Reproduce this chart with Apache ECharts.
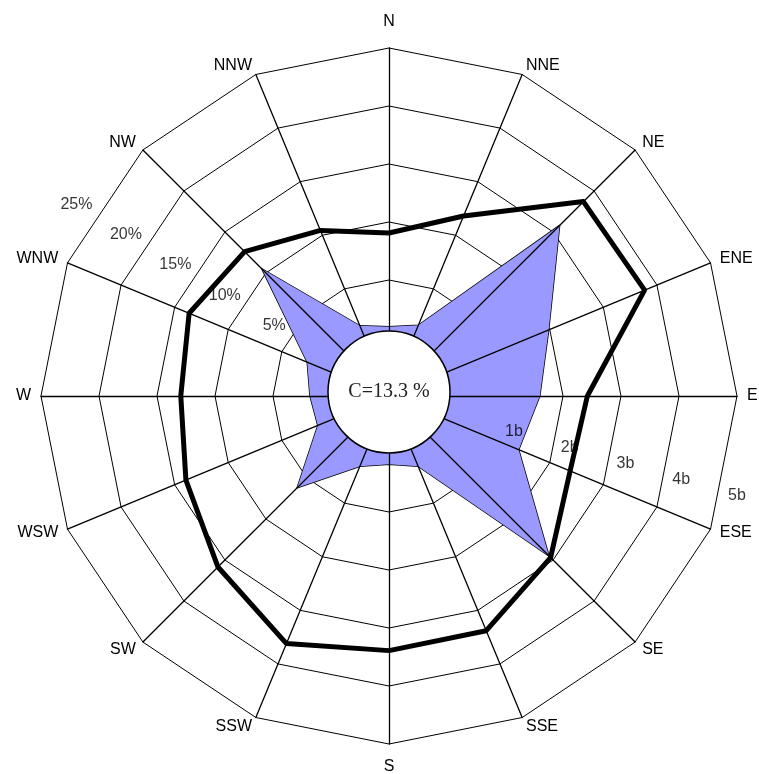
<!DOCTYPE html>
<html>
<head>
<meta charset="utf-8">
<script src="https://cdn.jsdelivr.net/npm/echarts@6/dist/echarts.min.js"></script>
<style>
  html, body { margin: 0; padding: 0; background: #fff; }
  #rose { width: 759px; height: 774px; }
</style>
</head>
<body>
<div id="rose"></div>
<script>
// compass order, clockwise from north
const directions = ["N", "NNE", "NE", "ENE", "E", "ESE", "SE", "SSE", "S", "SSW", "SW", "WSW", "W", "WNW", "NW", "NNW"];
// frequency of each direction, %
const frequency = [0.97, 1.6, 15.8, 9.9, 8.0, 7.1, 14.5, 1.55, 0.89, 1.55, 6.2, 1.64, 1.81, 2.63, 10.5, 1.55];
// mean wind force, Beaufort
const force = [1.81, 2.36, 3.74, 3.77, 2.42, 2.38, 2.94, 3.38, 3.39, 3.62, 3.17, 2.79, 2.59, 2.73, 2.52, 2.09];
const calm = 13.3;
const pctTicks = [5, 10, 15, 20, 25];
const bTicks = [1, 2, 3, 4, 5];

const cx = 389, cy = 396;
const r0 = 58, r1 = 348;
const maxPct = 25;
const pxPerUnit = (r1 - r0) / maxPct;

// radar lays indicators out counter-clockwise, so walk the compass backwards
const order = directions.map((d, i) => (16 - i) % 16);
const indicator = order.map(i => ({ name: directions[i], min: 0, max: maxPct }));
const freqVals = order.map(i => frequency[i]);
const forceVals = order.map(i => force[i] * 5);

// ring labels, placed through a polar system that shares the radar geometry
const polarMax = 30;
const pctLabels = pctTicks.map(v => ({ value: [v + 1.6, 301.5], label: { formatter: v + "%" } }));
const bLabels = bTicks.map(v => ({ value: [v * 5 + 1.2, 106], label: { formatter: v + "b" } }));

const font = "Liberation Sans, Arial, sans-serif";

let chart = echarts.init(document.getElementById("rose"));
let option = {
  backgroundColor: "#fff",
  animation: false,
  radar: [
    {
      z: 1,
      center: [cx, cy],
      radius: [r0, r1],
      startAngle: 90,
      shape: "polygon",
      splitNumber: 5,
      indicator: indicator,
      axisName: {
        color: "#000",
        fontSize: 16,
        fontFamily: font,
        verticalAlign: "middle",
        formatter: function(name) {
          if (name === "N") return "{n|N}";
          if (name === "S") return "{s|S}";
          return name;
        },
        rich: {
          n: { color: "#000", fontSize: 16, fontFamily: font, padding: [0, 0, 33, 0] },
          s: { color: "#000", fontSize: 16, fontFamily: font, padding: [26, 0, 0, 0] }
        }
      },
      nameGap: 10,
      axisLine: { show: false },
      axisTick: { show: false },
      axisLabel: { show: false },
      splitArea: { show: false },
      splitLine: { lineStyle: { color: "#000", width: 1 } }
    },
    {
      z: 3,
      center: [cx, cy],
      radius: [r0, r1],
      startAngle: 90,
      shape: "polygon",
      splitNumber: 5,
      indicator: indicator,
      axisName: { show: false },
      axisLine: { lineStyle: { color: "#000", width: 1.3 } },
      axisTick: { show: false },
      axisLabel: { show: false },
      splitArea: { show: false },
      splitLine: { show: false }
    }
  ],
  polar: {
    center: [cx, cy],
    radius: [r0, r0 + pxPerUnit * polarMax]
  },
  angleAxis: { type: "value", min: 0, max: 360, startAngle: 90, clockwise: true, show: false },
  radiusAxis: { type: "value", min: 0, max: polarMax, show: false },
  series: [
    {
      type: "radar",
      radarIndex: 0,
      z: 2,
      symbol: "none",
      silent: true,
      lineStyle: { color: "#000", width: 1.5 },
      areaStyle: { color: "#9999FF", opacity: 1 },
      data: [{ value: freqVals, name: "frequency" }]
    },
    {
      type: "radar",
      radarIndex: 1,
      z: 4,
      symbol: "none",
      silent: true,
      lineStyle: { color: "#000", width: 5 },
      data: [{ value: forceVals, name: "force" }]
    },
    {
      type: "scatter",
      coordinateSystem: "polar",
      z: 5,
      symbolSize: 0,
      silent: true,
      label: {
        show: true,
        position: "inside",
        color: "#000",
        fontSize: 16,
        fontFamily: font
      },
      data: pctLabels.concat(bLabels)
    },
    {
      type: "pie",
      z: 6,
      center: [cx, cy - 4],
      radius: [0, 61],
      silent: true,
      label: {
        show: true,
        position: "center",
        formatter: "C=" + calm + " %",
        color: "#222",
        fontSize: 20,
        fontFamily: "Liberation Serif, Times New Roman, serif"
      },
      labelLine: { show: false },
      itemStyle: { color: "#fff", borderColor: "#000", borderWidth: 1.5 },
      data: [{ value: 1, name: "calm" }]
    }
  ]
};
chart.setOption(option);
</script>
</body>
</html>
